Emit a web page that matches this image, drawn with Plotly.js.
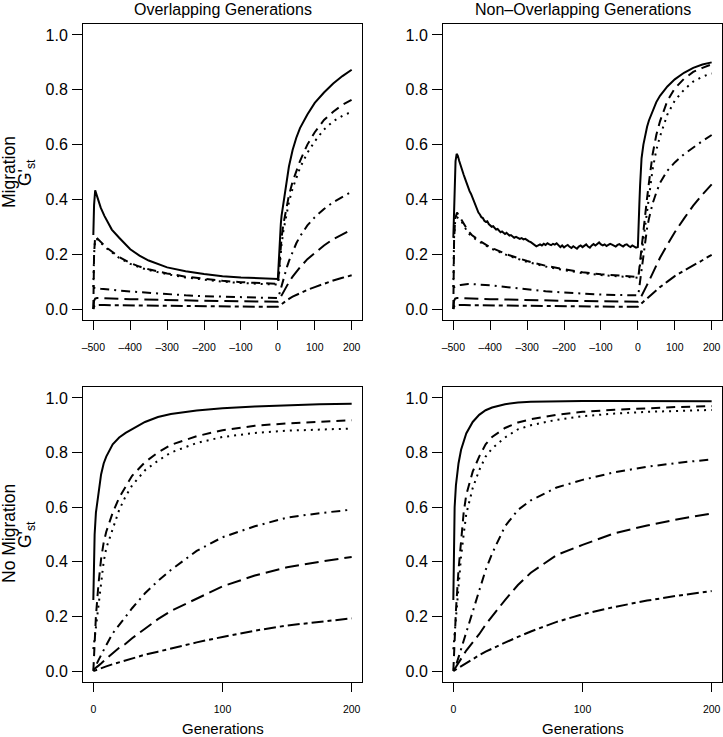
<!DOCTYPE html>
<html>
<head>
<meta charset="utf-8">
<script src="https://cdn.plot.ly/plotly-3.0.1.min.js"></script>
<style>html,body{margin:0;padding:0;background:#fff;}#chart{width:723px;height:737px;}</style>
</head>
<body>
<div id="chart"></div>
<script>
// ---------- DATA ----------
const panelTitles = ["Overlapping Generations", "Non\u2013Overlapping Generations"];
const rowLabels = ["Migration", "No Migration"];
const yLabelSub = "G'<sub>st</sub>";
const xTitle = "Generations";

const topTickVals = [-500, -400, -300, -200, -100, 0, 100, 200];
const topTickText = ["\u2013500", "\u2013400", "\u2013300", "\u2013200", "\u2013100", "0", "100", "200"];
const bottomTickVals = [0, 100, 200];
const bottomTickText = ["0", "100", "200"];
const yTickVals = [0, 0.2, 0.4, 0.6, 0.8, 1.0];
const yTickText = ["0.0", "0.2", "0.4", "0.6", "0.8", "1.0"];

// Top panels (migration until generation 0, then isolation)
const genTop = [-500,-498,-495,-490,-480,-470,-460,-450,-430,-400,
                -375,-350,-300,-250,-200,-150,-100,-50,0,
                2,4,6,8,10,15,20,25,30,40,50,60,80,100,125,150,175,200];

// Overlapping generations, migration
const olMigSolid    = [0.27,0.38,0.433,0.41,0.37,0.34,0.315,0.29,0.26,0.218,
                       0.195,0.177,0.152,0.138,0.128,0.12,0.115,0.112,0.11,
                       0.16,0.22,0.27,0.31,0.34,0.39,0.44,0.48,0.52,0.58,0.625,0.66,0.71,0.752,0.79,0.823,0.85,0.873];
const olMigDashed   = [0.0,0.2,0.265,0.258,0.245,0.232,0.22,0.21,0.19,0.168,
                       0.155,0.145,0.13,0.118,0.11,0.103,0.098,0.094,0.092,
                       0.12,0.16,0.2,0.235,0.26,0.31,0.35,0.385,0.415,0.465,0.505,0.54,0.6,0.645,0.69,0.72,0.745,0.763];
const olMigDotted   = [0.08,0.2,0.255,0.255,0.242,0.229,0.217,0.207,0.187,0.165,
                       0.152,0.142,0.127,0.115,0.107,0.1,0.095,0.091,0.089,
                       0.11,0.145,0.18,0.21,0.235,0.285,0.325,0.36,0.39,0.44,0.48,0.515,0.57,0.612,0.655,0.685,0.705,0.72];
const olMigDotDash  = [0.078,0.078,0.077,0.076,0.074,0.072,0.071,0.07,0.067,0.064,
                       0.061,0.058,0.054,0.05,0.047,0.045,0.043,0.041,0.04,
                       0.045,0.055,0.065,0.075,0.085,0.11,0.13,0.155,0.175,0.21,0.24,0.265,0.305,0.335,0.365,0.39,0.41,0.428];
const olMigLongDash = [0.0,0.03,0.038,0.04,0.04,0.039,0.039,0.038,0.037,0.036,
                       0.035,0.034,0.032,0.031,0.03,0.029,0.028,0.028,0.027,
                       0.03,0.035,0.04,0.045,0.05,0.062,0.075,0.087,0.098,0.118,0.136,0.152,0.182,0.205,0.232,0.255,0.274,0.29];
const olMigTwoDash  = [0.0,0.01,0.014,0.015,0.015,0.015,0.014,0.014,0.014,0.013,
                       0.013,0.012,0.012,0.011,0.01,0.01,0.009,0.009,0.008,
                       0.01,0.012,0.014,0.016,0.018,0.023,0.028,0.033,0.037,0.045,0.052,0.058,0.07,0.08,0.093,0.104,0.114,0.123];

// Non-overlapping generations, migration (solid curve is noisy, own generation list)
const genNolSolid = [-500,-497,-494,-491,-488,-484,-480,-476,-472,-468,
                     -464,-460,-456,-452,-448,-444,-440,-436,-432,-428,
                     -424,-420,-416,-412,-408,-404,-400,-396,-392,-388,
                     -384,-380,-376,-372,-368,-364,-360,-356,-352,-348,
                     -344,-340,-335,-330,-325,-320,-315,-310,-305,-300,
                     -295,-290,-285,-280,-275,-270,-265,-260,-255,-250,
                     -245,-240,-235,-230,-225,-220,-215,-210,-205,-200,
                     -195,-190,-185,-180,-175,-170,-165,-160,-155,-150,
                     -145,-140,-135,-130,-125,-120,-115,-110,-105,-100,
                     -95,-90,-85,-80,-75,-70,-65,-60,-55,-50,
                     -45,-40,-35,-30,-25,-20,-15,-10,-5,0,
                     2,4,6,8,10,15,20,25,30,40,
                     50,60,80,100,125,150,175,200];
const nolMigSolid = [0.26,0.45,0.54,0.566,0.56,0.54,0.52,0.5,0.49,0.475,
                     0.46,0.44,0.43,0.42,0.405,0.39,0.375,0.36,0.352,0.345,
                     0.335,0.332,0.322,0.318,0.32,0.31,0.305,0.3,0.302,0.294,
                     0.29,0.292,0.285,0.28,0.283,0.277,0.274,0.278,0.272,0.268,
                     0.27,0.264,0.26,0.263,0.258,0.256,0.259,0.254,0.256,0.25,
                     0.247,0.244,0.24,0.235,0.229,0.232,0.236,0.232,0.238,0.234,
                     0.24,0.236,0.233,0.238,0.235,0.24,0.233,0.226,0.232,0.225,
                     0.23,0.234,0.227,0.223,0.229,0.224,0.22,0.228,0.232,0.226,
                     0.231,0.236,0.228,0.224,0.232,0.237,0.232,0.239,0.243,0.236,
                     0.232,0.236,0.23,0.234,0.238,0.235,0.23,0.228,0.234,0.237,
                     0.232,0.228,0.234,0.236,0.23,0.226,0.232,0.228,0.224,0.226,
                     0.28,0.38,0.45,0.51,0.55,0.6,0.635,0.665,0.688,0.725,
                     0.755,0.778,0.812,0.838,0.862,0.88,0.892,0.9];
const nolMigDashed   = [0.0,0.25,0.33,0.352,0.33,0.305,0.285,0.27,0.25,0.225,
                        0.21,0.197,0.175,0.158,0.145,0.134,0.127,0.121,0.117,
                        0.125,0.15,0.18,0.21,0.235,0.29,0.345,0.405,0.46,0.565,0.635,0.685,0.76,0.805,0.84,0.865,0.88,0.893];
const nolMigDotted   = [0.08,0.26,0.32,0.335,0.325,0.3,0.277,0.265,0.246,0.222,
                        0.207,0.194,0.172,0.155,0.142,0.131,0.124,0.118,0.114,
                        0.12,0.14,0.165,0.19,0.215,0.265,0.315,0.365,0.415,0.51,0.58,0.63,0.71,0.76,0.8,0.83,0.848,0.86];
const nolMigDotDash  = [0.078,0.08,0.082,0.085,0.088,0.09,0.091,0.091,0.09,0.087,
                        0.083,0.079,0.071,0.065,0.06,0.056,0.053,0.051,0.05,
                        0.06,0.08,0.1,0.125,0.15,0.21,0.255,0.295,0.33,0.385,0.425,0.46,0.505,0.535,0.565,0.59,0.613,0.635];
const nolMigLongDash = [0.0,0.03,0.038,0.04,0.04,0.039,0.039,0.038,0.037,0.036,
                        0.035,0.034,0.032,0.031,0.03,0.029,0.028,0.028,0.027,
                        0.03,0.033,0.037,0.042,0.048,0.06,0.074,0.088,0.102,0.132,0.16,0.187,0.235,0.28,0.33,0.377,0.418,0.455];
const nolMigTwoDash  = [0.0,0.01,0.014,0.015,0.015,0.015,0.014,0.014,0.014,0.013,
                        0.013,0.012,0.012,0.011,0.01,0.01,0.009,0.009,0.008,
                        0.011,0.013,0.015,0.018,0.02,0.027,0.033,0.039,0.045,0.057,0.069,0.08,0.1,0.12,0.14,0.158,0.178,0.198];

// Bottom panels (no migration)
const genBottom = [0,1,2,4,6,8,10,15,20,25,30,40,50,60,80,100,125,150,175,200];

const olNoMigSolid    = [0.26,0.5,0.58,0.66,0.72,0.76,0.785,0.83,0.855,0.872,0.886,0.912,0.93,0.941,0.954,0.962,0.969,0.974,0.977,0.979];
const olNoMigDashed   = [0.0,0.1,0.2,0.32,0.41,0.47,0.51,0.58,0.635,0.675,0.715,0.765,0.8,0.828,0.86,0.882,0.898,0.907,0.913,0.918];
const olNoMigDotted   = [0.08,0.12,0.17,0.26,0.34,0.4,0.45,0.52,0.59,0.64,0.68,0.735,0.77,0.8,0.835,0.857,0.872,0.88,0.885,0.888];
const olNoMigDotDash  = [0.005,0.012,0.02,0.04,0.06,0.078,0.095,0.138,0.17,0.2,0.23,0.285,0.33,0.37,0.44,0.49,0.53,0.562,0.578,0.591];
const olNoMigLongDash = [0.005,0.008,0.012,0.02,0.028,0.035,0.045,0.065,0.085,0.1,0.12,0.155,0.19,0.22,0.265,0.31,0.35,0.38,0.4,0.418];
const olNoMigTwoDash  = [0.0,0.002,0.004,0.007,0.01,0.014,0.017,0.025,0.032,0.04,0.047,0.06,0.071,0.083,0.105,0.125,0.148,0.167,0.181,0.193];

const nolNoMigSolid    = [0.26,0.6,0.68,0.76,0.81,0.845,0.87,0.912,0.938,0.955,0.965,0.977,0.983,0.986,0.988,0.989,0.989,0.989,0.989,0.988];
const nolNoMigDashed   = [0.0,0.12,0.22,0.37,0.49,0.58,0.645,0.73,0.785,0.83,0.857,0.89,0.91,0.922,0.938,0.949,0.957,0.963,0.967,0.97];
const nolNoMigDotted   = [0.08,0.14,0.2,0.32,0.42,0.5,0.575,0.67,0.735,0.785,0.815,0.855,0.885,0.9,0.92,0.933,0.943,0.949,0.953,0.956];
const nolNoMigDotDash  = [0.005,0.012,0.02,0.05,0.08,0.11,0.14,0.22,0.29,0.37,0.43,0.53,0.59,0.625,0.672,0.7,0.728,0.748,0.763,0.775];
const nolNoMigLongDash = [0.005,0.008,0.015,0.03,0.045,0.06,0.075,0.105,0.135,0.17,0.2,0.26,0.315,0.36,0.425,0.462,0.505,0.533,0.557,0.577];
const nolNoMigTwoDash  = [0.0,0.003,0.006,0.012,0.018,0.024,0.03,0.044,0.058,0.071,0.083,0.104,0.125,0.145,0.18,0.208,0.235,0.258,0.277,0.293];

// ---------- STYLE ----------
const FONT = "Liberation Sans, Arial, Helvetica, sans-serif";
const dashes = ["solid", "9px,6px", "2px,5px", "2px,5px,9px,5px", "14px,6px", "4px,4px,12px,4px"];
const LW = 2;

function line(x, y, k, xa, ya) {
  return {type: "scatter", mode: "lines", x: x, y: y, xaxis: xa, yaxis: ya,
          line: {color: "#000", width: LW, dash: dashes[k], shape: "linear"},
          hoverinfo: "skip", showlegend: false};
}

const traces = [];
[olMigSolid, olMigDashed, olMigDotted, olMigDotDash, olMigLongDash, olMigTwoDash]
  .forEach((s, k) => traces.push(line(genTop, s, k, "x", "y")));
traces.push(line(genNolSolid, nolMigSolid, 0, "x2", "y2"));
[nolMigDashed, nolMigDotted, nolMigDotDash, nolMigLongDash, nolMigTwoDash]
  .forEach((s, k) => traces.push(line(genTop, s, k + 1, "x2", "y2")));
[olNoMigSolid, olNoMigDashed, olNoMigDotted, olNoMigDotDash, olNoMigLongDash, olNoMigTwoDash]
  .forEach((s, k) => traces.push(line(genBottom, s, k, "x3", "y3")));
[nolNoMigSolid, nolNoMigDashed, nolNoMigDotted, nolNoMigDotDash, nolNoMigLongDash, nolNoMigTwoDash]
  .forEach((s, k) => traces.push(line(genBottom, s, k, "x4", "y4")));

const W = 723, H = 737;
const px = v => v / W;
const py = v => 1 - v / H;
const colL = [px(83), px(362)], colR = [px(443), px(722)];
const rowT = [py(320), py(24)], rowB = [py(682), py(387)];

function xAx(dom, anchor, range, vals, text, fs) {
  return {domain: dom, anchor: anchor, range: range, tickmode: "array", tickvals: vals, ticktext: text,
          showline: true, linecolor: "#000", linewidth: 1, mirror: true, ticks: "outside",
          ticklen: 9, tickwidth: 1, tickcolor: "#000", showgrid: false, zeroline: false,
          tickfont: {family: FONT, size: fs, color: "#000"}, ticklabelstandoff: 8, fixedrange: true};
}
function yAx(dom, anchor) {
  return {domain: dom, anchor: anchor, range: [-0.04, 1.04], tickmode: "array", tickvals: yTickVals, ticktext: yTickText,
          showline: true, linecolor: "#000", linewidth: 1, mirror: true, ticks: "outside",
          ticklen: 10, tickwidth: 1, tickcolor: "#000", showgrid: false, zeroline: false,
          tickfont: {family: FONT, size: 16, color: "#000"}, ticklabelstandoff: 1, fixedrange: true};
}

const ann = [];
const addText = (text, x, y, size, angle, opts) => ann.push(Object.assign({
  text: text, x: x, y: y, xref: "paper", yref: "paper", showarrow: false,
  xanchor: "center", yanchor: "middle", textangle: angle,
  font: {family: FONT, size: size, color: "#000"}}, opts || {}));

addText(panelTitles[0], px(222.5), py(9), 16, 0);
addText(panelTitles[1], px(582.5), py(9), 16, 0);
addText(xTitle, px(222.5), py(728), 15, 0);
addText(xTitle, px(582.5), py(728), 15, 0);
addText(rowLabels[0], px(9), py(172), 17.5, -90);
addText(yLabelSub, px(26), py(172), 17.5, -90);
addText(rowLabels[1], px(9), py(534), 17.5, -90);
addText(yLabelSub, px(26), py(534), 17.5, -90);

const layout = {
  width: W, height: H, margin: {l: 0, r: 0, t: 0, b: 0, pad: 0},
  paper_bgcolor: "#fff", plot_bgcolor: "#fff", showlegend: false,
  font: {family: FONT, color: "#000"},
  xaxis:  xAx(colL, "y",  [-528, 228], topTickVals, topTickText, 10.5),
  yaxis:  yAx(rowT, "x"),
  xaxis2: xAx(colR, "y2", [-528, 228], topTickVals, topTickText, 10.5),
  yaxis2: yAx(rowT, "x2"),
  xaxis3: xAx(colL, "y3", [-8, 208], bottomTickVals, bottomTickText, 10.5),
  yaxis3: yAx(rowB, "x3"),
  xaxis4: xAx(colR, "y4", [-8, 208], bottomTickVals, bottomTickText, 10.5),
  yaxis4: yAx(rowB, "x4"),
  annotations: ann
};

Plotly.newPlot("chart", traces, layout, {displayModeBar: false, staticPlot: true});
</script>
</body>
</html>
